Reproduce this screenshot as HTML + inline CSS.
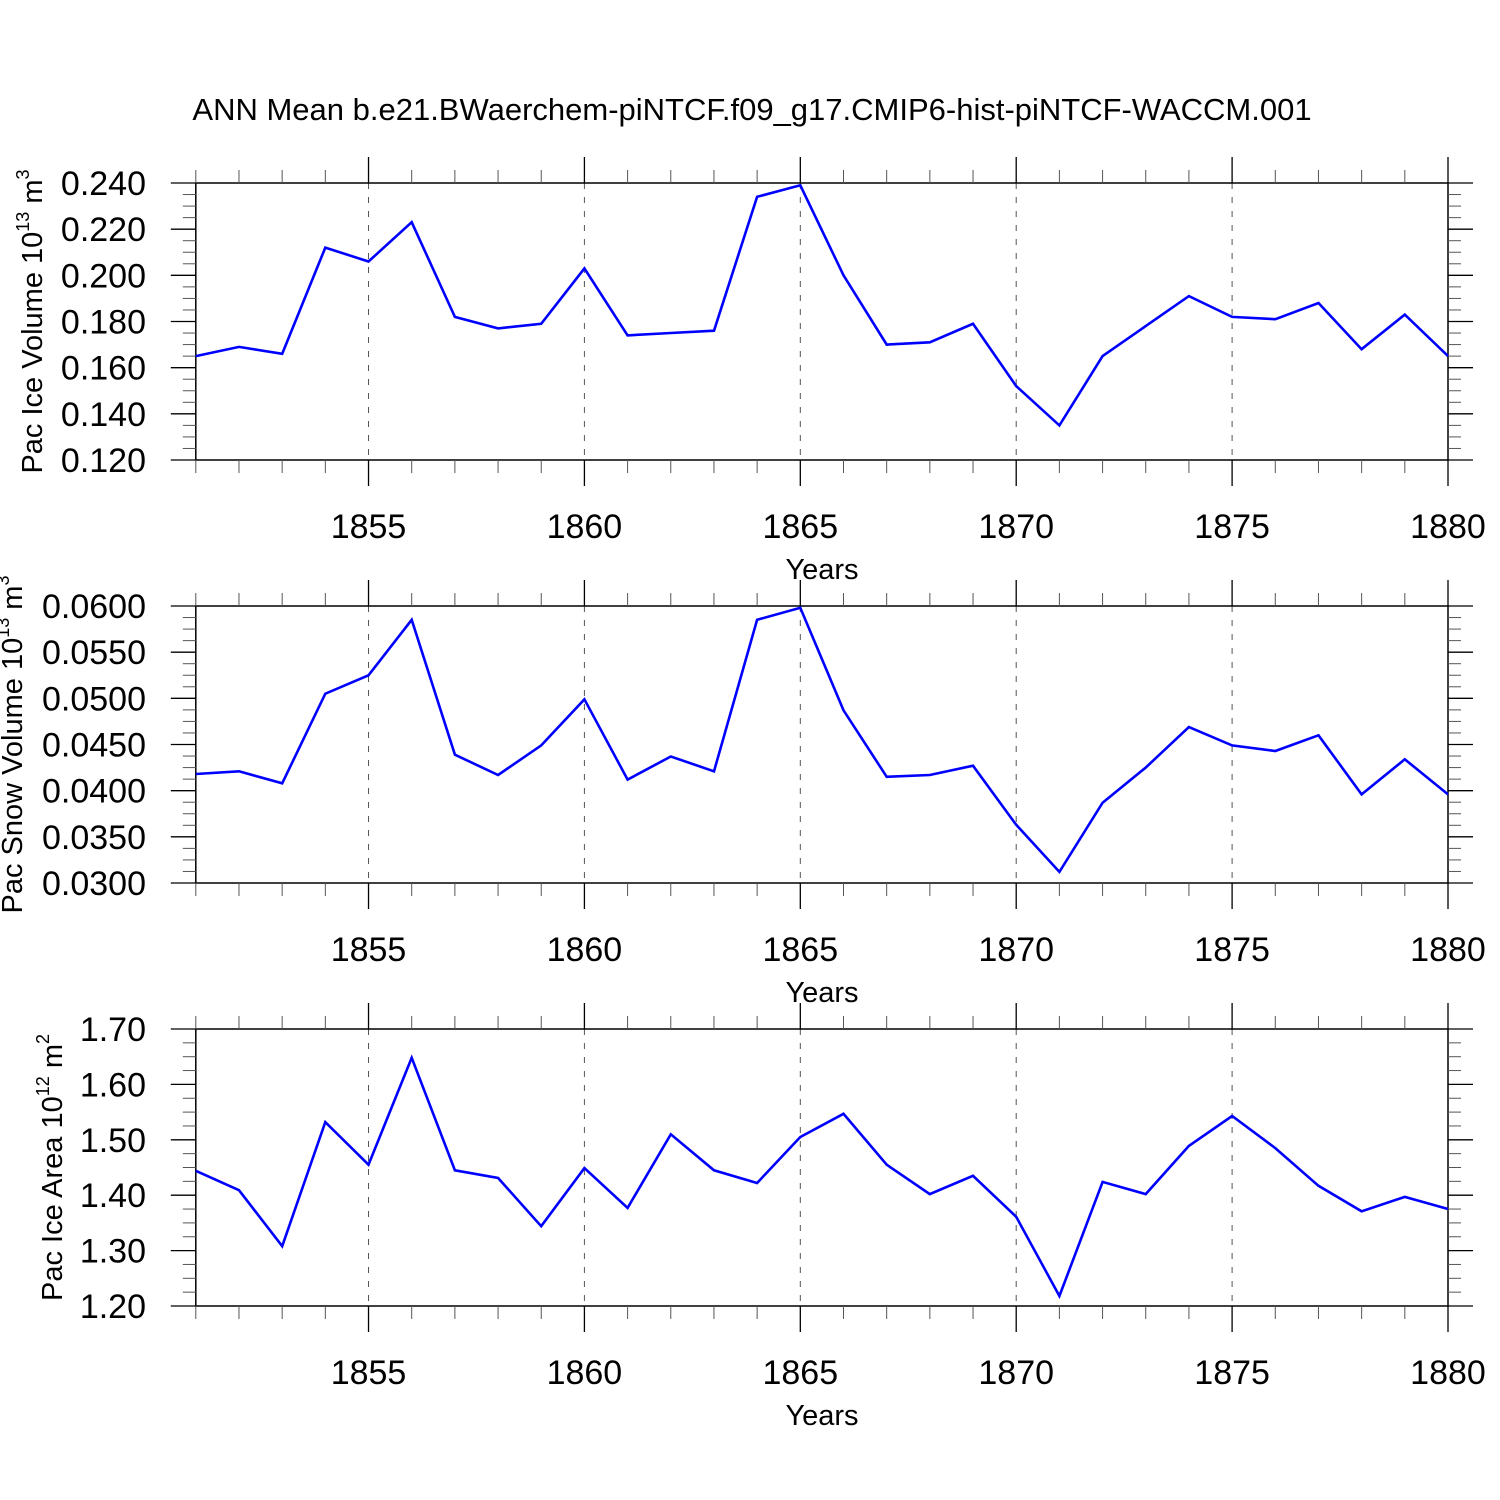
<!DOCTYPE html>
<html><head><meta charset="utf-8"><style>
html,body{margin:0;padding:0;background:#fff;}
svg{display:block;font-family:"Liberation Sans",sans-serif;}
</style></head><body>
<svg id="c" width="1500" height="1500" viewBox="0 0 1500 1500">
<text x="752" y="120" font-size="31" text-anchor="middle">ANN Mean b.e21.BWaerchem-piNTCF.f09_g17.CMIP6-hist-piNTCF-WACCM.001</text>
</svg>
<script>
const years=[1851,1852,1853,1854,1855,1856,1857,1858,1859,1860,1861,1862,1863,1864,1865,1866,1867,1868,1869,1870,1871,1872,1873,1874,1875,1876,1877,1878,1879,1880];
const xTicks=[1855,1860,1865,1870,1875,1880];
const iceVol=[0.165,0.169,0.166,0.212,0.206,0.223,0.182,0.177,0.179,0.203,0.174,0.175,0.176,0.234,0.239,0.200,0.170,0.171,0.179,0.152,0.135,0.165,0.178,0.191,0.182,0.181,0.188,0.168,0.183,0.165];
const snowVol=[0.0418,0.0421,0.0408,0.0505,0.0525,0.0585,0.0439,0.0417,0.0449,0.0499,0.0412,0.0437,0.0421,0.0585,0.0598,0.0487,0.0415,0.0417,0.0427,0.0363,0.0312,0.0387,0.0425,0.0469,0.0449,0.0443,0.0460,0.0396,0.0434,0.0396];
const iceArea=[1.444,1.409,1.308,1.532,1.455,1.648,1.445,1.431,1.344,1.449,1.377,1.510,1.445,1.422,1.505,1.547,1.455,1.402,1.435,1.361,1.218,1.424,1.402,1.489,1.543,1.485,1.417,1.371,1.397,1.375];
const iceTicks=[0.120,0.140,0.160,0.180,0.200,0.220,0.240];
const snowTicks=[0.0300,0.0350,0.0400,0.0450,0.0500,0.0550,0.0600];
const areaTicks=[1.20,1.30,1.40,1.50,1.60,1.70];
const NS='http://www.w3.org/2000/svg';
const svg=document.getElementById('c');
const X0=195.8,X1=1448,Y0=1851,Y1=1880;
function xs(v){return X0+(v-Y0)/(Y1-Y0)*(X1-X0);}
function mk(t,a,p){const e=document.createElementNS(NS,t);for(const k in a)e.setAttribute(k,a[k]);(p||svg).appendChild(e);return e;}
function panel(name,top,bot,ticks,dec,data,t1,t2,tx){
  const g=mk('g',{});
  
  
  const lo=ticks[0],hi=ticks[ticks.length-1];
  const ys=v=>bot-(v-lo)/(hi-lo)*(bot-top);
  const L=X0,R=X1;
  xTicks.forEach(t=>{if(t<Y1){const l=mk('line',{x1:xs(t),x2:xs(t),y1:top,y2:bot,stroke:'#555','stroke-width':1,'stroke-dasharray':'6,8'},g);
    
    }});
  const f=mk('rect',{x:L,y:top,width:R-L,height:bot-top,fill:'none',stroke:'#000','stroke-width':1.5},g);
  
  
  const step=ticks[1]-ticks[0];
  ticks.forEach((t,i)=>{
    const y=ys(t);
    mk('line',{x1:L-25,x2:L,y1:y,y2:y,stroke:'#000','stroke-width':1.3},g);
    mk('line',{x1:R,x2:R+25,y1:y,y2:y,stroke:'#000','stroke-width':1.3},g);
    const tl=mk('text',{x:146,y:y+12,'font-size':34,'text-anchor':'end'},g);
    tl.textContent=t.toFixed(dec);
    
    
    if(i<ticks.length-1)for(let m=1;m<4;m++){const ym=ys(t+step*m/4);
      mk('line',{x1:L-13,x2:L,y1:ym,y2:ym,stroke:'#555','stroke-width':1},g);
      mk('line',{x1:R,x2:R+13,y1:ym,y2:ym,stroke:'#555','stroke-width':1},g);}
  });
  years.forEach(yr=>{
    const x=xs(yr);const maj=xTicks.includes(yr);const len=maj?26:13;
    mk('line',{x1:x,x2:x,y1:top-len,y2:top,stroke:maj?'#000':'#555','stroke-width':maj?1.3:1},g);
    mk('line',{x1:x,x2:x,y1:bot,y2:bot+len,stroke:maj?'#000':'#555','stroke-width':maj?1.3:1},g);
    if(maj){const tl=mk('text',{x:x,y:bot+78,'font-size':34,'text-anchor':'middle'},g);
      tl.textContent=yr;
      
      }
  });
  const xt=mk('text',{x:822,y:bot+119,'font-size':29,'text-anchor':'middle'},g);
  xt.textContent='Years';
  
  
  const yt=mk('text',{transform:`translate(${tx},${(top+bot)/2}) rotate(-90)`,'font-size':29,'text-anchor':'middle'},g);
  
  
  yt.innerHTML=t1+'<tspan dy="-13" font-size="18">'+t2+'</tspan><tspan dy="13"> m</tspan><tspan dy="-13" font-size="18">'+(name==='ice-area'?'2':'3')+'</tspan>';
  const pts=years.map((yr,i)=>xs(yr).toFixed(1)+','+ys(data[i]).toFixed(1)).join(' ');
  const pl=mk('polyline',{points:pts,fill:'none',stroke:'#0000ff','stroke-width':2.6,'stroke-linejoin':'miter'},g);
  
  
}
panel('ice-volume',183,460,iceTicks,3,iceVol,'Pac Ice Volume 10','13',42);
panel('snow-volume',606,883,snowTicks,4,snowVol,'Pac Snow Volume 10','13',22);
panel('ice-area',1029,1306,areaTicks,2,iceArea,'Pac Ice Area 10','12',62);
</script>
</body></html>
